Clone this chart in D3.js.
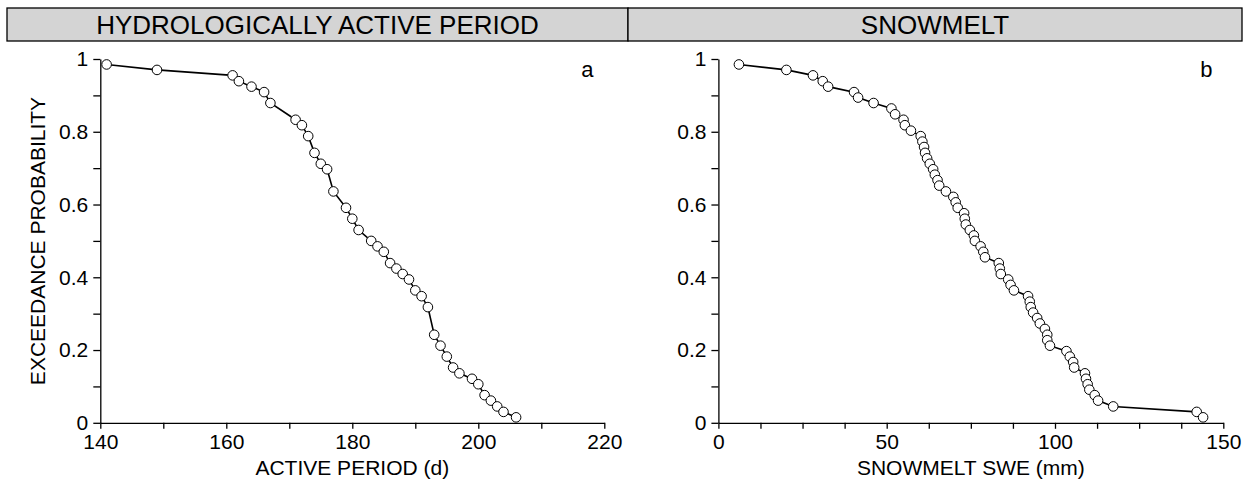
<!DOCTYPE html>
<html>
<head>
<meta charset="utf-8">
<script src="https://cdn.jsdelivr.net/npm/d3@7/dist/d3.min.js"></script>
<style>
body { margin: 0; background: #fff; }
svg text { font-family: "Liberation Sans", Arial, sans-serif; fill: #000; }
.axis path, .axis line { stroke: #000; stroke-width: 1.3; }
.axis text { font-size: 21px; }
</style>
</head>
<body>
<svg width="1247" height="485"></svg>
<script>
// panel a: active period (days) vs exceedance probability
var activeDays = [141,149,161,162,164,166,167,171,172,173,174,175,176,177,179,180,181,183,184,185,
  186,187,188,189,190,191,192,193,194,195,196,197,199,200,201,202,203,204,206];
var activeProb = [0.985,0.970,0.955,0.939,0.924,0.909,0.879,0.833,0.818,0.788,0.742,0.712,0.697,0.636,
  0.591,0.561,0.530,0.500,0.485,0.470,0.439,0.424,0.409,0.394,0.364,0.348,0.318,0.242,0.212,0.182,
  0.152,0.136,0.121,0.106,0.076,0.061,0.045,0.030,0.015];

// panel b: snowmelt SWE (mm)
var snowSwe = [6.1,20.2,28.1,31.0,32.6,40.3,41.5,46.1,51.4,52.5,55.0,55.4,57.2,60.1,60.6,61.1,61.4,62.0,
  62.8,63.8,64.3,65.1,65.6,67.6,69.8,70.5,71.1,73.0,73.2,73.5,74.7,75.9,76.2,77.9,78.7,79.2,83.3,83.6,
  83.9,86.1,86.8,87.8,92.0,92.5,92.8,93.5,94.7,95.5,97.0,97.7,97.7,98.5,103.4,104.4,105.4,105.7,108.9,
  109.2,109.7,110.2,111.8,112.8,117.3,142.1,144.0];
var snowProb = [0.985,0.970,0.955,0.939,0.924,0.909,0.894,0.879,0.864,0.848,0.833,0.818,0.803,0.788,
  0.773,0.758,0.742,0.727,0.712,0.697,0.682,0.667,0.652,0.636,0.621,0.606,0.591,0.576,0.561,0.545,
  0.530,0.515,0.500,0.485,0.470,0.455,0.439,0.424,0.409,0.394,0.379,0.364,0.348,0.333,0.318,0.303,
  0.288,0.273,0.258,0.242,0.227,0.212,0.197,0.182,0.167,0.152,0.136,0.121,0.106,0.091,0.076,0.061,
  0.045,0.030,0.015];

var headers = ["HYDROLOGICALLY ACTIVE PERIOD", "SNOWMELT"];
var yTicks = [0, 0.2, 0.4, 0.6, 0.8, 1];
var yMinor = [0.1, 0.3, 0.5, 0.7, 0.9];

var svg = d3.select("svg");

// header band
var hx = [7, 628, 1242];
headers.forEach(function(h, i) {
  svg.append("rect")
    .attr("x", hx[i]).attr("y", 8)
    .attr("width", hx[i+1] - hx[i]).attr("height", 33)
    .attr("fill", "#d4d4d4").attr("stroke", "#000").attr("stroke-width", 1.3);
  svg.append("text")
    .attr("x", (hx[i] + hx[i+1]) / 2).attr("y", 34)
    .attr("text-anchor", "middle")
    .style("font-size", "26px")
    .text(h);
});

var yScale = d3.scaleLinear().domain([0, 1]).range([422.8, 59]);

var panels = [
  {x: activeDays, p: activeProb, domain: [140, 220], range: [100.3, 604.3],
   major: [140, 160, 180, 200, 220], minor: [150, 170, 190, 210],
   label: "ACTIVE PERIOD (d)", letter: "a"},
  {x: snowSwe, p: snowProb, domain: [0, 150], range: [718.4, 1223.3],
   major: [0, 50, 100, 150], minor: [12.5, 25, 37.5, 62.5, 75, 87.5, 112.5, 125, 137.5],
   label: "SNOWMELT SWE (mm)", letter: "b"}
];

panels.forEach(function(pn) {
  var xScale = d3.scaleLinear().domain(pn.domain).range(pn.range);
  var x0 = pn.range[0];

  // x axis
  svg.append("g").attr("class", "axis")
    .attr("transform", "translate(0,422.8)")
    .call(d3.axisBottom(xScale).tickValues(pn.major).tickSize(6).tickSizeOuter(0).tickPadding(5)
      .tickFormat(d3.format("d")));
  svg.append("g").attr("class", "axis")
    .attr("transform", "translate(0,422.8)")
    .call(d3.axisBottom(xScale).tickValues(pn.minor).tickSize(6).tickSizeOuter(0).tickFormat(""))
    .select(".domain").remove();

  // y axis
  svg.append("g").attr("class", "axis")
    .attr("transform", "translate(" + x0 + ",0)")
    .call(d3.axisLeft(yScale).tickValues(yTicks).tickSize(7).tickSizeOuter(0).tickPadding(5)
      .tickFormat(function(d) { return (d === 0 || d === 1) ? d : d.toFixed(1); }));
  svg.append("g").attr("class", "axis")
    .attr("transform", "translate(" + x0 + ",0)")
    .call(d3.axisLeft(yScale).tickValues(yMinor).tickSize(7).tickSizeOuter(0).tickFormat(""))
    .select(".domain").remove();

  // axis title
  svg.append("text")
    .attr("x", (pn.range[0] + pn.range[1]) / 2).attr("y", 475)
    .attr("text-anchor", "middle")
    .style("font-size", "21px")
    .text(pn.label);

  // panel letter
  svg.append("text")
    .attr("x", pn.range[1] - 17).attr("y", 77)
    .attr("text-anchor", "middle")
    .style("font-size", "22px")
    .text(pn.letter);

  var pts = pn.x.map(function(v, i) { return [v, pn.p[i]]; });

  var line = d3.line()
    .x(function(d) { return xScale(d[0]); })
    .y(function(d) { return yScale(d[1]); });

  svg.append("path")
    .datum(pts)
    .attr("d", line)
    .attr("fill", "none")
    .attr("stroke", "#000")
    .attr("stroke-width", 1.6);

  svg.append("g").selectAll("circle")
    .data(pts)
    .enter()
    .append("circle")
    .attr("cx", function(d) { return xScale(d[0]); })
    .attr("cy", function(d) { return yScale(d[1]); })
    .attr("r", 4.8)
    .attr("fill", "#fff")
    .attr("stroke", "#000")
    .attr("stroke-width", 1);
});

// shared y-axis title
svg.append("text")
  .attr("transform", "translate(45,241) rotate(-90)")
  .attr("text-anchor", "middle")
  .style("font-size", "21px")
  .text("EXCEEDANCE PROBABILITY");
</script>
</body>
</html>
